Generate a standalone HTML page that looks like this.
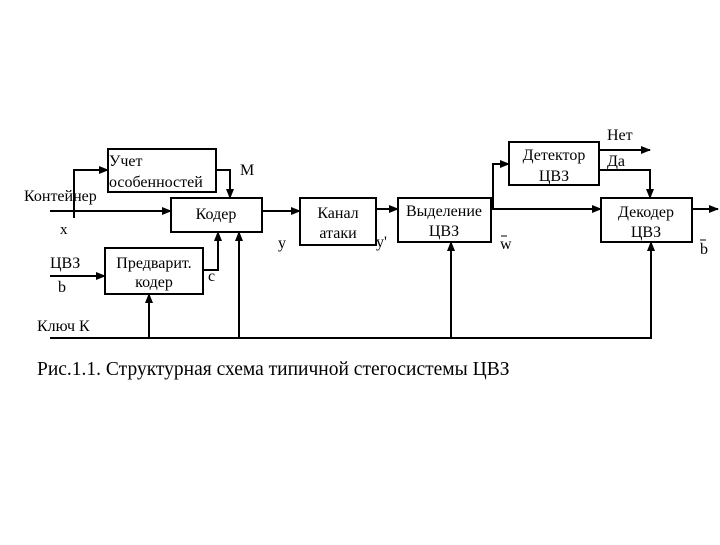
<!DOCTYPE html>
<html><head><meta charset="utf-8"><style>
html,body{margin:0;padding:0;background:#fff}
svg text{font-family:"Liberation Serif","DejaVu Serif",serif;fill:#000}
</style></head><body>
<svg width="720" height="540" viewBox="0 0 720 540" xmlns="http://www.w3.org/2000/svg">
<defs><marker id="a" markerWidth="10" markerHeight="8" refX="9" refY="4" orient="auto" markerUnits="userSpaceOnUse"><path d="M0,0 L10,4 L0,8 z" fill="#000"/></marker></defs>
<g fill="none" stroke="#000" stroke-width="2">
<rect x="108" y="149" width="108" height="43"/>
<rect x="171" y="198" width="91" height="34"/>
<rect x="105" y="248" width="98" height="46"/>
<rect x="300" y="198" width="76" height="47"/>
<rect x="398" y="198" width="93" height="44"/>
<rect x="509" y="142" width="90" height="43"/>
<rect x="601" y="198" width="91" height="44"/>
<line x1="50" y1="211" x2="171" y2="211" marker-end="url(#a)"/>
<polyline points="74,218 74,170 108,170" marker-end="url(#a)"/>
<polyline points="216,170 230,170 230,198" marker-end="url(#a)"/>
<line x1="50" y1="276" x2="105" y2="276" marker-end="url(#a)"/>
<polyline points="203,270 218,270 218,232" marker-end="url(#a)"/>
<line x1="262" y1="211" x2="300" y2="211" marker-end="url(#a)"/>
<line x1="376" y1="209" x2="398" y2="209" marker-end="url(#a)"/>
<line x1="491" y1="209" x2="601" y2="209" marker-end="url(#a)"/>
<polyline points="493,209 493,164 509,164" marker-end="url(#a)"/>
<line x1="599" y1="150" x2="650" y2="150" marker-end="url(#a)"/>
<polyline points="599,170 650,170 650,198" marker-end="url(#a)"/>
<line x1="692" y1="209" x2="718" y2="209" marker-end="url(#a)"/>
<line x1="50" y1="338" x2="652" y2="338"/>
<line x1="149" y1="338" x2="149" y2="294" marker-end="url(#a)"/>
<line x1="239" y1="338" x2="239" y2="232" marker-end="url(#a)"/>
<line x1="451" y1="338" x2="451" y2="242" marker-end="url(#a)"/>
<line x1="651" y1="338" x2="651" y2="242" marker-end="url(#a)"/>
</g>
<g font-size="16">
<text x="109" y="166">Учет</text>
<text x="109" y="187">особенностей</text>
<text x="240" y="175">М</text>
<text x="24" y="201">Контейнер</text>
<text x="60" y="234" font-size="15">x</text>
<text x="216" y="219" text-anchor="middle">Кодер</text>
<text x="50" y="268">ЦВЗ</text>
<text x="58" y="292">b</text>
<text x="154" y="268" text-anchor="middle">Предварит.</text>
<text x="154" y="287" text-anchor="middle">кодер</text>
<text x="208" y="281">с</text>
<text x="278" y="248">y</text>
<text x="338" y="218" text-anchor="middle">Канал</text>
<text x="338" y="238" text-anchor="middle">атаки</text>
<text x="376" y="247">y'</text>
<text x="444" y="216" text-anchor="middle">Выделение</text>
<text x="444" y="236" text-anchor="middle">ЦВЗ</text>
<text x="500" y="249">w</text>
<text x="554" y="160" text-anchor="middle">Детектор</text>
<text x="554" y="181" text-anchor="middle">ЦВЗ</text>
<text x="607" y="140">Нет</text>
<text x="607" y="166">Да</text>
<text x="646" y="217" text-anchor="middle">Декодер</text>
<text x="646" y="237" text-anchor="middle">ЦВЗ</text>
<text x="700" y="254">b</text>
<text x="37" y="331">Ключ К</text>
<text x="37" y="375" font-size="19.5">Рис.1.1. Структурная схема типичной стегосистемы ЦВЗ</text>
</g>
<g stroke="#000" stroke-width="1"><line x1="501" y1="236" x2="507" y2="236"/><line x1="700" y1="240" x2="706" y2="240"/></g>
</svg>
</body></html>
